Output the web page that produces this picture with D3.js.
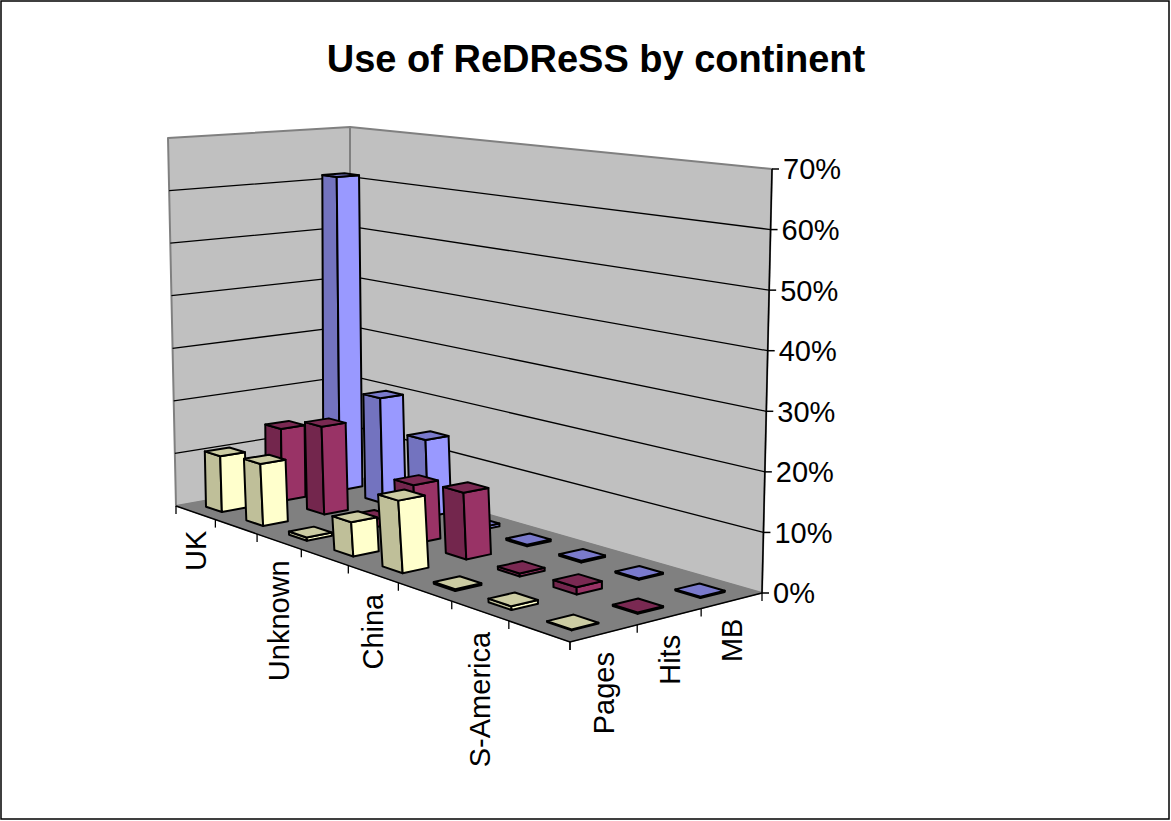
<!DOCTYPE html>
<html><head><meta charset="utf-8">
<script src="https://cdn.jsdelivr.net/npm/d3@7"></script>
<style>
body{margin:0;background:#fff}
svg{display:block}
text{font-family:"Liberation Sans",Arial,Helvetica,sans-serif;fill:#000}
</style>
</head><body>
<svg id="chart" width="1171" height="821"></svg>
<script>
// ---------------- data ----------------
const chartTitle = "Use of ReDReSS by continent";
const categories = ["UK", "Europe", "Unknown", "N-America", "China", "Asia", "S-America", "Oceania"];
const seriesNames = ["Pages", "Hits", "MB"];
const pagesValues = [0.105, 0.114, 0.006, 0.060, 0.124, 0.003, 0.006, 0.0015];
const hitsValues  = [0.138, 0.164, 0.015, 0.104, 0.116, 0.005, 0.012, 0.002];
const mbValues    = [0.612, 0.200, 0.143, 0.005, 0.003, 0.003, 0.002, 0.002];
const seriesColors = ["#FFFFCC", "#993366", "#9999FF"];
const valueTicks = [0, 0.1, 0.2, 0.3, 0.4, 0.5, 0.6, 0.7];
const categoryLabelEvery = 2;

// ---------------- frame calibration (screen corners of the 3D box) ----------------
// corners in order (u,v) = (0,0),(1,0),(1,1),(0,1)
const floorFrame = [[176, 506], [570, 642], [762, 593], [350, 475]];
const topFrame   = [[168, 138], [574, 198], [772, 169], [350, 127]];

function solveLinear(M, b) {
  const n = b.length;
  const a = M.map((r, i) => r.concat([b[i]]));
  for (let c = 0; c < n; c++) {
    let p = c;
    for (let r = c + 1; r < n; r++) if (Math.abs(a[r][c]) > Math.abs(a[p][c])) p = r;
    [a[c], a[p]] = [a[p], a[c]];
    for (let r = 0; r < n; r++) {
      if (r === c) continue;
      const f = a[r][c] / a[c][c];
      for (let k = c; k <= n; k++) a[r][k] -= f * a[c][k];
    }
  }
  return a.map((r, i) => r[n] / r[i]);
}
const unitSquare = [[0,0],[1,0],[1,1],[0,1]];
function homography(frame) {
  const M = [], b = [];
  unitSquare.forEach(([u, v], i) => {
    const [x, y] = frame[i];
    M.push([u, v, 1, 0, 0, 0, -u * x, -v * x]); b.push(x);
    M.push([0, 0, 0, u, v, 1, -u * y, -v * y]); b.push(y);
  });
  return solveLinear(M, b);
}
function applyH(h, u, v) {
  const d = h[6] * u + h[7] * v + 1;
  return [(h[0] * u + h[1] * v + h[2]) / d, (h[3] * u + h[4] * v + h[5]) / d];
}
const hFloor = homography(floorFrame), hTop = homography(topFrame);
function proj(u, v, w) {
  const a = applyH(hFloor, u, v), b = applyH(hTop, u, v);
  return [a[0] + (b[0] - a[0]) * w, a[1] + (b[1] - a[1]) * w];
}

// ---------------- scales ----------------
const xScale = d3.scaleBand().domain(categories).range([0, 1]).paddingInner(0.6).paddingOuter(0.3);
const zScale = d3.scaleBand().domain(seriesNames).range([0, 1]).paddingInner(0.6).paddingOuter(0.3);
const yScale = d3.scaleLinear().domain([0, 0.7]).range([0, 1]);
const fmt = d3.format(".0%");

const svg = d3.select("#chart");
const poly = pts => "M" + pts.map(p => p.join(",")).join("L") + "Z";
const line = d3.line();

// outer border
svg.append("rect").attr("x", 1).attr("y", 1).attr("width", 1168).attr("height", 818)
  .attr("fill", "#fff").attr("stroke", "#000").attr("stroke-width", 1.5);

// title
svg.append("text").attr("x", 596).attr("y", 72).attr("text-anchor", "middle")
  .style("font-size", "38px").style("font-weight", "bold").text(chartTitle);

// walls & floor
const wallStyle = s => s.attr("fill", "#C0C0C0").attr("stroke", "#808080").attr("stroke-width", 2).attr("stroke-linejoin", "round");
svg.append("path").attr("d", poly([proj(0,0,0), proj(0,1,0), proj(0,1,1), proj(0,0,1)])).call(wallStyle);
svg.append("path").attr("d", poly([proj(0,1,0), proj(1,1,0), proj(1,1,1), proj(0,1,1)])).call(wallStyle);
svg.append("path").attr("d", poly([proj(0,0,0), proj(1,0,0), proj(1,1,0), proj(0,1,0)]))
  .attr("fill", "#808080").attr("stroke", "#808080").attr("stroke-width", 1);

// gridlines
const gridVals = valueTicks.filter(t => t > 0 && t < 0.7);
svg.append("g").selectAll("path").data(gridVals).join("path")
  .attr("d", t => line([proj(0,0,yScale(t)), proj(0,1,yScale(t)), proj(1,1,yScale(t))]))
  .attr("fill", "none").attr("stroke", "#000").attr("stroke-width", 1.3);

// axes lines
svg.append("path").attr("d", line([proj(0,0,0), proj(1,0,0), proj(1,1,0)]))
  .attr("fill", "none").attr("stroke", "#000").attr("stroke-width", 1.5);
svg.append("path").attr("d", line([proj(1,1,0), proj(1,1,1)]))
  .attr("fill", "none").attr("stroke", "#000").attr("stroke-width", 1.5);

// value ticks + labels
const vt = svg.append("g").selectAll("g").data(valueTicks).join("g");
vt.append("line")
  .attr("x1", t => proj(1,1,yScale(t))[0]).attr("y1", t => proj(1,1,yScale(t))[1])
  .attr("x2", t => proj(1,1,yScale(t))[0] + 7).attr("y2", t => proj(1,1,yScale(t))[1])
  .attr("stroke", "#000").attr("stroke-width", 1.5);
vt.append("text")
  .attr("x", t => proj(1,1,yScale(t))[0] + 11).attr("y", t => proj(1,1,yScale(t))[1]).attr("dy", "0.36em")
  .style("font-size", "29px").text(t => fmt(t));

// category ticks
const catEdges = d3.range(categories.length + 1).map(i => i / categories.length);
svg.append("g").selectAll("line").data(catEdges).join("line")
  .attr("x1", u => proj(u,0,0)[0]).attr("y1", u => proj(u,0,0)[1])
  .attr("x2", u => proj(u,0,0)[0]).attr("y2", u => proj(u,0,0)[1] + 8)
  .attr("stroke", "#000").attr("stroke-width", 1.3);
const serEdges = d3.range(seriesNames.length + 1).map(j => j / seriesNames.length);
svg.append("g").selectAll("line").data(serEdges).join("line")
  .attr("x1", v => proj(1,v,0)[0]).attr("y1", v => proj(1,v,0)[1])
  .attr("x2", v => proj(1,v,0)[0]).attr("y2", v => proj(1,v,0)[1] + 8)
  .attr("stroke", "#000").attr("stroke-width", 1.3);

// category labels
const step = xScale.step();
svg.append("g").selectAll("text").data(categories.filter((c, i) => i % categoryLabelEvery === 0)).join("text")
  .attr("transform", c => {
    const u = xScale(c) - xScale.paddingOuter() * step;
    const cx = proj(u + step / 2, 0, 0)[0];
    const ty = proj(u + step, 0, 0)[1] + 11;
    return `translate(${cx},${ty}) rotate(-90)`;
  })
  .attr("text-anchor", "end").attr("dy", "0.36em").style("font-size", "29px").text(c => c);

// series labels
const zstep = zScale.step();
svg.append("g").selectAll("text").data(seriesNames).join("text")
  .attr("transform", s => {
    const v = zScale(s) - zScale.paddingOuter() * zstep;
    const cx = proj(1, v + zstep / 2, 0)[0];
    const ty = proj(1, v, 0)[1] + 10;
    return `translate(${cx},${ty}) rotate(-90)`;
  })
  .attr("text-anchor", "end").attr("dy", "0.36em").style("font-size", "29px").text(s => s);

// bars
const seriesValues = [pagesValues, hitsValues, mbValues];
const shade = (c, k) => { const r = d3.rgb(c); return d3.rgb(r.r * k, r.g * k, r.b * k).formatHex(); };
const bars = [];
seriesNames.forEach((s, si) => categories.forEach((c, ci) => bars.push({s, si, c, ci, value: seriesValues[si][ci]})));
bars.sort((a, b) => (b.si - a.si) || (a.ci - b.ci));
const bg = svg.append("g").selectAll("g").data(bars).join("g");
function faces(d) {
  const u0 = xScale(d.c), u1 = u0 + xScale.bandwidth();
  const v0 = zScale(d.s), v1 = v0 + zScale.bandwidth();
  const w = yScale(d.value);
  return [
    {pts: [proj(u0,v0,0), proj(u1,v0,0), proj(u1,v0,w), proj(u0,v0,w)], k: 0.75},
    {pts: [proj(u1,v0,0), proj(u1,v1,0), proj(u1,v1,w), proj(u1,v0,w)], k: 1},
    {pts: [proj(u0,v0,w), proj(u1,v0,w), proj(u1,v1,w), proj(u0,v1,w)], k: 0.8}
  ].map(f => Object.assign(f, {color: seriesColors[d.si]}));
}
bg.selectAll("path").data(d => faces(d)).join("path")
  .attr("d", f => poly(f.pts))
  .attr("fill", f => shade(f.color, f.k))
  .attr("stroke", "#000").attr("stroke-width", 2).attr("stroke-linejoin", "round");
</script>
</body></html>
